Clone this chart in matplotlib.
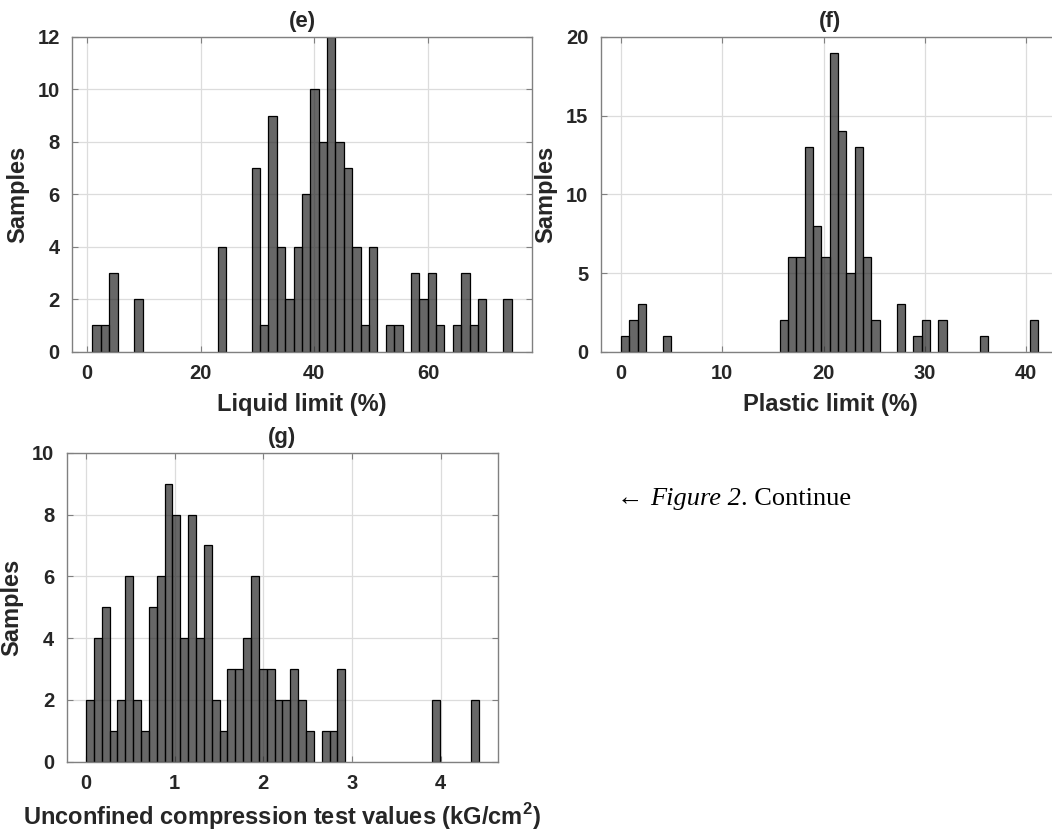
import numpy as np
import matplotlib
matplotlib.use("Agg")
import matplotlib.pyplot as plt

# histogram counts (50 bins each)
ll_counts = [1, 1, 3, 0, 0, 2, 0, 0, 0, 0, 0, 0, 0, 0, 0, 4, 0, 0, 0, 7,
             1, 9, 4, 2, 4, 6, 10, 8, 12, 8, 7, 4, 1, 4, 0, 1, 1, 0, 3, 2,
             3, 1, 0, 1, 3, 1, 2, 0, 0, 2]
ll_range = (0.94, 74.7)

pl_counts = [1, 2, 3, 0, 0, 1, 0, 0, 0, 0, 0, 0, 0, 0, 0, 0, 0, 0, 0, 2,
             6, 6, 13, 8, 6, 19, 14, 5, 13, 6, 2, 0, 0, 3, 0, 1, 2, 0, 2, 0,
             0, 0, 0, 1, 0, 0, 0, 0, 0, 2]
pl_range = (0.0, 41.2)

ucs_counts = [2, 4, 5, 1, 2, 6, 2, 1, 5, 6, 9, 8, 4, 8, 4, 7, 2, 1, 3, 3,
              4, 6, 3, 3, 2, 2, 3, 2, 1, 0, 1, 1, 3, 0, 0, 0, 0, 0, 0, 0,
              0, 0, 0, 0, 2, 0, 0, 0, 0, 2]
ucs_range = (0.0, 4.43)

plt.rcParams['font.family'] = ['Liberation Sans', 'DejaVu Sans']
plt.rcParams['mathtext.fontset'] = 'custom'
plt.rcParams['mathtext.bf'] = 'Liberation Sans:bold'
plt.rcParams['mathtext.rm'] = 'Liberation Sans'

W, H = 1052, 835
fig = plt.figure(figsize=(W / 100, H / 100), dpi=100)

spine_col = '#808080'
text_col = '#262626'


def px_axes(left, top, right, bottom):
    return fig.add_axes([left / W, 1 - bottom / H, (right - left) / W, (bottom - top) / H])


def draw_hist(ax, counts, rng, xlim, ylim, xticks, yticks, title, xlabel, xpad=7):
    counts = np.array(counts)
    edges = np.linspace(rng[0], rng[1], len(counts) + 1)
    keep = counts > 0
    ax.bar(edges[:-1][keep], counts[keep], width=np.diff(edges)[keep], align='edge',
           color=(0.15, 0.15, 0.15, 0.7), edgecolor='black', linewidth=0.9, zorder=2)
    ax.set_xlim(xlim)
    ax.set_ylim(ylim)
    ax.set_xticks(xticks)
    ax.set_yticks(yticks)
    ax.grid(True, color='#dcdcdc', linewidth=0.9, zorder=0)
    ax.set_axisbelow(True)
    for s in ax.spines.values():
        s.set_color(spine_col)
        s.set_linewidth(1.0)
    ax.tick_params(direction='in', top=True, right=True, length=4, color=spine_col,
                   labelsize=14.5, labelcolor=text_col, pad=9)
    for lab in ax.get_xticklabels() + ax.get_yticklabels():
        lab.set_fontweight('bold')
    ax.set_title(title, fontsize=16, fontweight='bold', color=text_col, pad=7)
    ax.set_xlabel(xlabel, fontsize=17, fontweight='bold', color=text_col, labelpad=xpad)
    ax.set_ylabel('Samples', fontsize=17, fontweight='bold', color=text_col, labelpad=6)


ax_e = px_axes(72.3, 37, 531.7, 351.7)
draw_hist(ax_e, ll_counts, ll_range, (-2.59, 78.25), (0, 12),
          [0, 20, 40, 60], [0, 2, 4, 6, 8, 10, 12], '(e)', 'Liquid limit (%)')

ax_f = px_axes(600.7, 37, 1060.1, 351.7)
draw_hist(ax_f, pl_counts, pl_range, (-2.01, 43.34), (0, 20),
          [0, 10, 20, 30, 40], [0, 5, 10, 15, 20], '(f)', 'Plastic limit (%)')

ax_g = px_axes(66.7, 452.7, 497.7, 761.7)
draw_hist(ax_g, ucs_counts, ucs_range, (-0.218, 4.643), (0, 10),
          [0, 1, 2, 3, 4], [0, 2, 4, 6, 8, 10], '(g)',
          r'Unconfined compression test values (kG/cm$^{\mathbf{2}}$)', xpad=6)

# caption, the middle part in italics
cap_kw = dict(family='Liberation Serif', fontsize=19, color='black')
t1 = fig.text(617 / W, 1 - 505 / H, '\u2190 ', ha='left', va='baseline', **cap_kw)
t2 = ax_g.annotate('Figure 2', xy=(1, 0), xycoords=t1, ha='left', va='bottom',
                   style='italic', annotation_clip=False, **cap_kw)
t3 = ax_g.annotate('. Continue', xy=(1, 0), xycoords=t2, ha='left', va='bottom',
                   annotation_clip=False, **cap_kw)

fig.savefig('out.png', dpi=100)
plt.close(fig)
